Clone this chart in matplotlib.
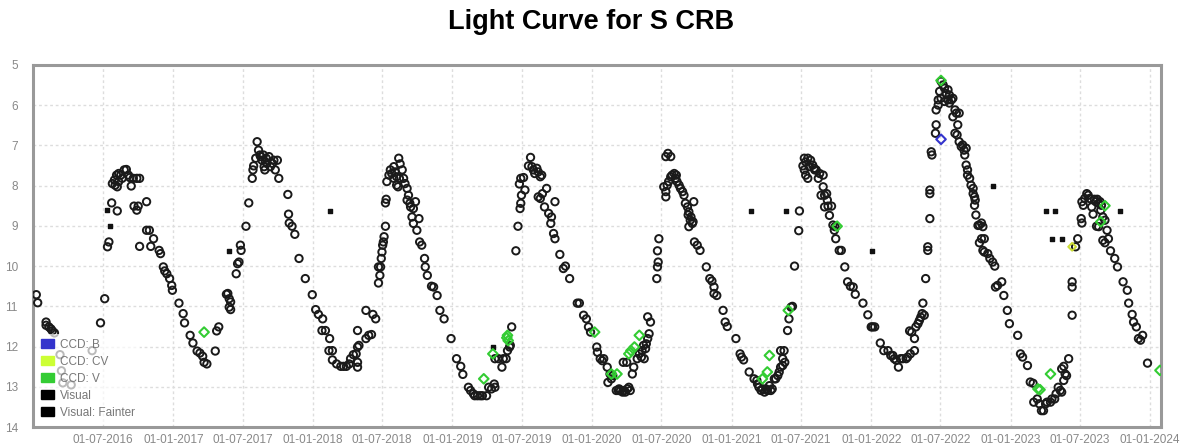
import numpy as np
import pandas as pd
import matplotlib
matplotlib.use("Agg")
import matplotlib.pyplot as plt
from matplotlib.patches import Patch

plt.rcParams["font.family"] = ["Liberation Sans", "DejaVu Sans"]

# observations as (decimal year, magnitude)
visual_years = [
    2016.02, 2016.03, 2016.09, 2016.09, 2016.11, 2016.125, 2016.135, 2016.15,
    2016.19, 2016.20, 2016.21, 2016.27, 2016.42,
    2016.48, 2016.51, 2016.53, 2016.54, 2016.56, 2016.60,
    2016.565, 2016.58, 2016.585, 2016.595, 2016.61, 2016.625, 2016.635, 2016.65, 2016.665,
    2016.68, 2016.69, 2016.70, 2016.715, 2016.74, 2016.76, 2016.61, 2016.60,
    2016.72, 2016.74, 2016.75, 2016.81, 2016.76, 2016.81, 2016.83, 2016.84, 2016.86,
    2016.90, 2016.91, 2016.93, 2016.94, 2016.955, 2016.975, 2016.99, 2016.995, 2017.04,
    2017.07, 2017.08, 2017.12, 2017.14, 2017.17, 2017.19, 2017.21, 2017.22, 2017.24,
    2017.30, 2017.31, 2017.325,
    2017.39, 2017.40, 2017.40, 2017.41, 2017.41, 2017.38,
    2017.45, 2017.46, 2017.47, 2017.48, 2017.485, 2017.52, 2017.54,
    2017.565, 2017.57, 2017.575, 2017.59, 2017.60, 2017.61, 2017.62, 2017.625, 2017.635,
    2017.645, 2017.65, 2017.655, 2017.66, 2017.665, 2017.67, 2017.685, 2017.695, 2017.71,
    2017.72, 2017.73, 2017.745, 2017.755,
    2017.82, 2017.825, 2017.83, 2017.85, 2017.87, 2017.90, 2017.945, 2017.995, 2018.02,
    2018.04, 2018.07, 2018.065, 2018.09, 2018.12, 2018.115, 2018.14, 2018.14, 2018.17,
    2018.20, 2018.22, 2018.24, 2018.26, 2018.27, 2018.29, 2018.31, 2018.32, 2018.33,
    2018.32, 2018.32, 2018.32, 2018.38, 2018.40, 2018.42, 2018.38, 2018.43, 2018.45,
    2018.47, 2018.48, 2018.485, 2018.49, 2018.495, 2018.50, 2018.505, 2018.51, 2018.52,
    2018.47, 2018.52, 2018.525,
    2018.53, 2018.545, 2018.555, 2018.565, 2018.58, 2018.59, 2018.60, 2018.615, 2018.625,
    2018.64, 2018.58, 2018.60, 2018.61, 2018.62,
    2018.65, 2018.66, 2018.675, 2018.685, 2018.675, 2018.695, 2018.70, 2018.72, 2018.735,
    2018.71, 2018.72, 2018.745, 2018.76, 2018.765, 2018.78,
    2018.80, 2018.805, 2018.82, 2018.85, 2018.865, 2018.89, 2018.91, 2018.94, 2018.99,
    2019.03, 2019.06, 2019.075,
    2019.115, 2019.13, 2019.15, 2019.16, 2019.18, 2019.20, 2019.215, 2019.245, 2019.26,
    2019.28, 2019.30, 2019.305,
    2019.305, 2019.33, 2019.355, 2019.365, 2019.385, 2019.395, 2019.41, 2019.415, 2019.425,
    2019.455, 2019.47, 2019.485, 2019.49, 2019.495, 2019.48, 2019.49, 2019.51, 2019.52,
    2019.56, 2019.545, 2019.57, 2019.58, 2019.59, 2019.605, 2019.615, 2019.63, 2019.64,
    2019.615, 2019.63, 2019.645, 2019.66, 2019.675, 2019.69, 2019.705, 2019.71, 2019.735,
    2019.725, 2019.735,
    2019.77, 2019.795, 2019.81, 2019.84, 2019.895, 2019.91, 2019.94, 2019.96, 2019.975,
    2019.99,
    2020.035, 2020.04, 2020.06, 2020.075, 2020.085, 2020.11, 2020.115, 2020.13, 2020.14,
    2020.15, 2020.175, 2020.19,
    2020.195, 2020.205, 2020.22, 2020.23, 2020.24, 2020.255, 2020.265, 2020.275,
    2020.225, 2020.25, 2020.29, 2020.30, 2020.325, 2020.34, 2020.355, 2020.36, 2020.37,
    2020.375, 2020.385, 2020.39, 2020.40, 2020.41, 2020.40, 2020.42,
    2020.465, 2020.47, 2020.475, 2020.47, 2020.48,
    2020.515, 2020.53, 2020.53, 2020.54, 2020.55, 2020.565, 2020.575, 2020.59, 2020.60,
    2020.605, 2020.61, 2020.625, 2020.53, 2020.545, 2020.565,
    2020.635, 2020.65, 2020.66, 2020.67, 2020.685, 2020.695, 2020.69, 2020.71, 2020.705,
    2020.72, 2020.725, 2020.695, 2020.73,
    2020.735, 2020.755, 2020.775, 2020.82, 2020.845, 2020.86, 2020.875, 2020.875, 2020.895,
    2020.94, 2020.955, 2020.97, 2021.03, 2021.06, 2021.07, 2021.085, 2021.125,
    2021.16, 2021.18, 2021.185, 2021.195, 2021.21, 2021.22, 2021.235, 2021.245, 2021.255,
    2021.27, 2021.28, 2021.29, 2021.305, 2021.315, 2021.33, 2021.34, 2021.35, 2021.365,
    2021.35, 2021.365, 2021.375, 2021.38,
    2021.40, 2021.41, 2021.425, 2021.435, 2021.45, 2021.48, 2021.485,
    2021.51, 2021.52, 2021.53, 2021.53, 2021.545, 2021.545, 2021.555, 2021.565, 2021.58,
    2021.52, 2021.59,
    2021.595, 2021.605, 2021.62, 2021.63, 2021.64, 2021.655, 2021.655, 2021.665, 2021.665,
    2021.68, 2021.685, 2021.69, 2021.70, 2021.715,
    2021.725, 2021.735, 2021.745, 2021.74, 2021.77, 2021.785, 2021.81, 2021.83, 2021.85,
    2021.87, 2021.885, 2021.94, 2021.975, 2022.00, 2022.01, 2022.025,
    2022.065, 2022.09, 2022.12, 2022.14, 2022.155, 2022.165, 2022.18, 2022.195, 2022.21,
    2022.225, 2022.25, 2022.26, 2022.28, 2022.31,
    2022.275, 2022.29, 2022.31, 2022.32, 2022.335, 2022.345, 2022.355, 2022.365, 2022.37,
    2022.38, 2022.39,
    2022.405, 2022.405, 2022.42, 2022.42, 2022.42, 2022.43, 2022.435, 2022.46, 2022.465,
    2022.465,
    2022.48, 2022.48, 2022.49, 2022.50, 2022.50, 2022.515, 2022.525, 2022.525, 2022.535,
    2022.55, 2022.55, 2022.56, 2022.56, 2022.575, 2022.585, 2022.60, 2022.61, 2022.585,
    2022.62, 2022.63, 2022.60, 2022.615, 2022.63, 2022.645, 2022.655, 2022.665, 2022.67,
    2022.68,
    2022.68, 2022.69, 2022.69, 2022.705, 2022.715, 2022.73, 2022.73, 2022.74, 2022.745,
    2022.74, 2022.75, 2022.765, 2022.775, 2022.79, 2022.80,
    2022.775, 2022.79, 2022.81, 2022.80, 2022.81, 2022.835, 2022.85, 2022.87, 2022.885,
    2022.89, 2022.905, 2022.935, 2022.95, 2022.975, 2022.99,
    2023.05, 2023.07, 2023.085, 2023.12, 2023.14, 2023.16, 2023.165, 2023.19, 2023.205,
    2023.22, 2023.235, 2023.25, 2023.26, 2023.285, 2023.295, 2023.315, 2023.325, 2023.34,
    2023.355, 2023.365, 2023.38, 2023.39, 2023.365, 2023.40, 2023.415, 2023.38,
    2023.44, 2023.44, 2023.44, 2023.465, 2023.48, 2023.505, 2023.51,
    2023.51, 2023.52, 2023.53, 2023.545, 2023.555, 2023.565, 2023.58, 2023.59, 2023.60,
    2023.61, 2023.62, 2023.63, 2023.64, 2023.65, 2023.645,
    2023.615, 2023.63, 2023.66, 2023.675, 2023.66, 2023.675, 2023.69, 2023.70, 2023.715,
    2023.745, 2023.765, 2023.805, 2023.835, 2023.845, 2023.87, 2023.88, 2023.90, 2023.915,
    2023.93, 2023.945, 2023.98,
]
visual_mags = [
    10.71, 10.91, 11.39, 11.47, 11.51, 11.56, 11.61, 11.66,
    12.20, 12.60, 12.90, 12.95, 12.10,
    11.41, 10.81, 9.52, 9.40, 8.43, 8.63,
    7.95, 7.86, 7.99, 7.74, 7.70, 7.74, 7.82, 7.61, 7.60,
    7.74, 7.80, 8.01, 7.82, 7.82, 7.82, 7.90, 8.03,
    8.51, 8.61, 8.51, 8.40, 9.51, 9.11, 9.11, 9.51, 9.32,
    9.61, 9.69, 10.02, 10.12, 10.19, 10.31, 10.48, 10.60, 10.92,
    11.18, 11.41, 11.72, 11.91, 12.11, 12.16, 12.24, 12.39, 12.43,
    12.11, 11.61, 11.51,
    10.68, 10.81, 11.02, 11.08, 10.89, 10.70,
    10.19, 9.94, 9.90, 9.48, 9.61, 9.01, 8.43,
    7.82, 7.61, 7.51, 7.32, 6.91, 7.12, 7.24, 7.28, 7.37,
    7.24, 7.53, 7.61, 7.41, 7.32, 7.45, 7.28, 7.53, 7.45,
    7.37, 7.61, 7.37, 7.82,
    8.22, 8.71, 8.93, 9.01, 9.21, 9.81, 10.31, 10.71, 11.08,
    11.20, 11.31, 11.60, 11.60, 11.80, 12.10, 12.10, 12.33, 12.43,
    12.49, 12.49, 12.49, 12.43, 12.30, 12.20, 12.18, 12.01, 11.97,
    12.51, 12.39, 11.60, 11.80, 11.72, 11.70, 11.10, 11.20, 11.31,
    10.42, 10.23, 10.02, 9.81, 9.65, 9.48, 9.40, 9.27, 9.01,
    10.02, 8.43, 8.34,
    7.90, 7.74, 7.61, 7.70, 7.53, 7.66, 7.78, 7.32, 7.46,
    7.61, 7.82, 7.99, 8.03, 7.82,
    7.82, 7.95, 8.07, 8.24, 8.36, 8.44, 8.53, 8.57, 8.40,
    8.78, 8.94, 9.11, 8.82, 9.40, 9.48,
    9.81, 10.02, 10.23, 10.50, 10.52, 10.73, 11.10, 11.31, 11.80,
    12.30, 12.49, 12.69,
    13.01, 13.09, 13.17, 13.22, 13.22, 13.22, 13.22, 13.22, 13.01,
    13.05, 12.93, 13.01,
    12.30, 12.30, 12.51, 12.30, 12.30, 12.10, 12.01, 11.97, 11.51,
    9.62, 9.01, 8.57, 8.44, 8.24, 7.96, 7.82, 7.80, 8.11,
    7.30, 7.51, 7.53, 7.61, 7.70, 7.57, 7.66, 7.78, 7.74,
    8.28, 8.32, 8.20, 8.53, 8.07, 8.69, 8.94, 8.78, 8.40,
    9.19, 9.32,
    9.71, 10.06, 10.00, 10.31, 10.92, 10.92, 11.22, 11.31, 11.51,
    11.64,
    12.01, 12.14, 12.30, 12.35, 12.30, 12.51, 12.89, 12.68, 12.80,
    12.72, 13.09, 13.09,
    13.05, 13.09, 13.13, 13.09, 13.13, 13.05, 13.01, 13.09,
    12.39, 12.39, 12.68, 12.51, 12.30, 12.18, 12.26, 12.10, 11.97,
    12.30, 12.05, 11.93, 11.80, 11.68, 11.26, 11.39,
    10.31, 10.02, 9.90, 9.62, 9.32,
    8.03, 8.28, 8.15, 7.99, 7.90, 7.78, 7.74, 7.70, 7.82,
    7.74, 7.90, 7.99, 7.28, 7.20, 7.28,
    8.07, 8.15, 8.24, 8.44, 8.53, 8.65, 8.73, 8.78, 8.86,
    8.94, 8.90, 9.02, 8.40,
    9.40, 9.48, 9.61, 10.02, 10.31, 10.37, 10.52, 10.68, 10.73,
    11.10, 11.39, 11.50, 11.80, 12.18, 12.26, 12.33, 12.63,
    12.80, 12.84, 12.93, 13.01, 13.09, 13.05, 13.13, 13.05, 13.09,
    12.97, 13.09, 13.05, 12.80, 12.80, 12.72, 12.63, 12.51, 12.47,
    12.10, 12.30, 12.10, 12.39,
    11.60, 11.31, 11.02, 11.00, 10.00, 9.12, 8.63,
    7.51, 7.32, 7.41, 7.74, 7.32, 7.82, 7.53, 7.37, 7.49,
    7.61, 7.57,
    7.61, 7.61, 7.82, 7.70, 8.24, 7.74, 8.03, 8.24, 8.53,
    8.20, 8.36, 8.51, 8.74, 8.51,
    8.98, 9.11, 9.32, 9.02, 9.61, 9.61, 10.02, 10.39, 10.50,
    10.52, 10.70, 10.92, 11.21, 11.51, 11.51, 11.51,
    11.91, 12.10, 12.10, 12.22, 12.22, 12.30, 12.34, 12.51, 12.30,
    12.30, 12.30, 12.26, 12.18, 12.10,
    11.61, 11.64, 11.80, 11.51, 11.43, 11.35, 11.27, 11.18, 10.92,
    11.22, 10.31,
    9.52, 9.61, 8.82, 8.11, 8.20, 7.16, 7.24, 6.70, 6.49,
    6.12,
    5.87, 6.00, 5.66, 5.41, 5.83, 5.50, 5.58, 5.91, 5.71,
    5.62, 5.87, 5.75, 5.95, 5.87, 5.83, 6.12, 6.20, 6.29,
    6.49, 6.20, 6.70, 6.74, 6.91, 7.03, 6.99, 7.12, 7.24,
    7.07,
    7.49, 7.61, 7.74, 7.82, 7.99, 8.07, 8.20, 8.28, 8.36,
    8.49, 8.73, 8.99, 8.98, 8.93, 9.02,
    9.42, 9.32, 9.32, 9.61, 9.65, 9.69, 9.81, 9.90, 10.00,
    10.52, 10.48, 10.39, 10.73, 11.10, 11.43,
    11.72, 12.18, 12.26, 12.47, 12.88, 12.91, 13.38, 13.30, 13.42,
    13.59, 13.59, 13.42, 13.38, 13.38, 13.30, 13.30, 13.17, 13.01,
    13.09, 13.13, 12.84, 12.68, 12.55, 12.72, 12.30, 12.49,
    11.22, 10.39, 10.52, 9.52, 9.32, 8.82, 8.93,
    8.40, 8.49, 8.32, 8.20, 8.24, 8.32, 8.53, 8.71, 8.34,
    8.40, 8.34, 8.44, 8.40, 8.49, 8.61,
    9.01, 9.02, 8.78, 8.86, 9.36, 9.42, 9.11, 9.32, 9.62,
    9.81, 10.02, 10.39, 10.60, 10.92, 11.20, 11.39, 11.51, 11.80,
    11.84, 11.72, 12.41,
]

fainter_years = [2016.53, 2016.55, 2017.40, 2018.125, 2019.29, 2021.14, 2021.39,
                 2022.005, 2022.87, 2023.25, 2023.32, 2023.295, 2023.37, 2023.78]
fainter_mags = [8.61, 9.01, 9.62, 8.63, 12.00, 8.63, 8.63,
                9.62, 8.01, 8.63, 8.63, 9.32, 9.32, 8.63]

ccd_v_years = [2017.22, 2019.225, 2019.29, 2019.395, 2019.40, 2019.39, 2020.02,
               2020.14, 2020.18, 2020.265, 2020.28, 2020.305, 2020.34, 2021.27,
               2021.255, 2021.22, 2021.405, 2021.755, 2022.50, 2023.195, 2023.21,
               2023.285, 2023.675, 2023.645, 2024.07]
ccd_v_mags = [11.64, 12.80, 12.18, 11.72, 11.85, 11.78, 11.64,
              12.68, 12.68, 12.18, 12.10, 12.01, 11.72, 12.22,
              12.63, 12.80, 11.10, 9.01, 5.39, 13.05, 13.07,
              12.68, 8.50, 8.90, 12.59]

ccd_b_years = [2022.50]
ccd_b_mags = [6.85]

ccd_cv_years = [2023.44]
ccd_cv_mags = [9.52]

legend_labels = ["CCD: B", "CCD: CV", "CCD: V", "Visual", "Visual: Fainter"]
legend_colors = ["#3333cc", "#ccff33", "#33cc33", "#000000", "#000000"]


def to_dates(years):
    """Turn decimal years into timestamps."""
    years = np.asarray(years, dtype=float)
    whole = np.floor(years).astype(int)
    start = pd.to_datetime([f"{y}-01-01" for y in whole])
    return start + pd.to_timedelta((years - whole) * 365.25, unit="D")


fig = plt.figure(figsize=(11.83, 4.44), dpi=100)
ax = fig.add_axes([0.028, 0.038, 0.953, 0.816])

ax.scatter(to_dates(visual_years), visual_mags, s=28, facecolors="none",
           edgecolors="#1a1a1a", linewidths=1.4, zorder=3)
ax.scatter(to_dates(fainter_years), fainter_mags, s=10, marker="s",
           color="#111111", zorder=3)
ax.scatter(to_dates(ccd_v_years), ccd_v_mags, s=24, marker="D", facecolors="none",
           edgecolors="#33cc33", linewidths=1.5, zorder=4)
ax.scatter(to_dates(ccd_b_years), ccd_b_mags, s=24, marker="D", facecolors="none",
           edgecolors="#3333cc", linewidths=1.5, zorder=4)
ax.scatter(to_dates(ccd_cv_years), ccd_cv_mags, s=16, marker="D", facecolors="none",
           edgecolors="#ccdd33", linewidths=1.4, zorder=4)

# magnitudes: brighter is up
ax.set_ylim(14, 5)
ax.set_yticks(range(5, 15))
ax.set_xlim(pd.Timestamp("2015-12-31"), pd.Timestamp("2024-01-28"))

ticks = pd.date_range("2016-07-01", "2024-01-01", freq="6MS")
ax.set_xticks(ticks)
ax.set_xticklabels([t.strftime("%d-%m-%Y") for t in ticks])

ax.grid(True, color="#dddddd", linestyle=(0, (2, 2)), linewidth=1.0)
ax.set_axisbelow(True)
ax.tick_params(length=0, labelsize=8.5, colors="#888888")
ax.tick_params(axis="y", pad=11)
ax.tick_params(axis="x", pad=5)
for spine in ax.spines.values():
    spine.set_color("#999999")
    spine.set_linewidth(2.2)

handles = [Patch(facecolor=c, edgecolor=c) for c in legend_colors]
leg = ax.legend(handles, legend_labels, loc="lower left", fontsize=8.5,
                handlelength=1.1, handleheight=0.8, handletextpad=0.5,
                labelspacing=0.42, borderaxespad=0.3, frameon=True,
                framealpha=0.7, edgecolor="none", facecolor="white")
for text in leg.get_texts():
    text.set_color("#777777")

fig.text(0.5, 0.95, "Light Curve for S CRB", ha="center", va="center",
         fontsize=19.5, fontweight="bold")

fig.savefig("out.png", dpi=100)
